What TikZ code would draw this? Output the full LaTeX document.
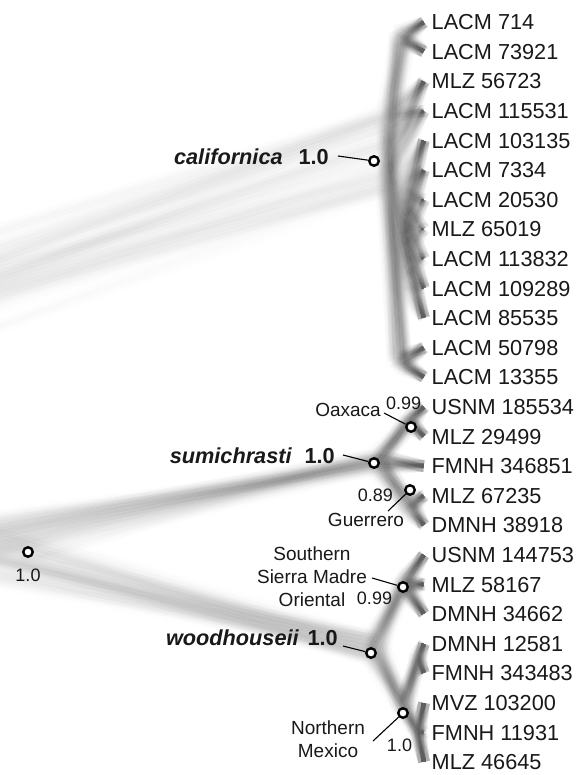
\documentclass[tikz,border=0pt]{standalone}
\usepackage{fontspec}
\setmainfont{Liberation Sans}
\begin{document}
\begin{tikzpicture}[x=1pt,y=-1pt,
  br/.style={draw=black, line width=1.2pt, draw opacity=0.0016, line cap=round, line join=round,
             preaction={draw=black, line width=12pt, draw opacity=0.0032},
             preaction={draw=black, line width=5pt, draw opacity=0.0034}},
  tiplbl/.style={anchor=west, inner sep=0pt, text height=15.5pt, text depth=0pt,
                 font=\fontsize{21.7}{24}\selectfont, text=black!90},
  taxlbl/.style={anchor=east, inner sep=0pt, text height=15.5pt, text depth=0pt,
                 font=\fontsize{21.7}{24}\selectfont, text=black!90},
  small/.style={inner sep=0pt, text height=13.5pt, text depth=0pt,
                font=\fontsize{19}{23.5}\selectfont, text=black!90},
  num/.style={inner sep=0pt, text height=12.9pt, text depth=0pt,
              font=\fontsize{18}{22}\selectfont, text=black!90},
  multi/.style={inner sep=0pt, align=center, font=\fontsize{19}{23.2}\selectfont, text=black!90},
  ring/.style={circle, draw=black, fill=white, line width=2.4pt, minimum size=9.5pt, inner sep=0pt},
  lead/.style={draw=black, line width=1.1pt}]

\fill[white] (0,0) rectangle (580,775);
\useasboundingbox (0,0) rectangle (580,775);

% tip positions of the cloud
\foreach \i in {0,...,25}{
  \coordinate (t\i) at (424,{22+29.6*\i});
}

% cloud of sampled trees
\begin{scope}
\clip (0,0) rectangle (580,775);
\pgfmathsetseed{2718}
\foreach \k in {1,...,80}{
  \pgfmathsetmacro\zRx{-560+100*rand}
  \pgfmathsetmacro\zRy{455+50*rand}
  \pgfmathsetmacro\zWSx{-50+70*rand}
  \pgfmathsetmacro\zWSy{548+22*rand}
  \pgfmathsetmacro\zCx{387+8*rand}
  \pgfmathsetmacro\zCy{150+45*rand}
  \pgfmathsetmacro\zAx{402+8*rand}
  \pgfmathsetmacro\zAy{37+8*rand}
  \pgfmathsetmacro\zBx{396+7*rand}
  \pgfmathsetmacro\zBy{230+60*rand}
  \pgfmathsetmacro\zDx{400+8*rand}
  \pgfmathsetmacro\zDy{362+8*rand}
  \pgfmathsetmacro\zSx{377+10*rand}
  \pgfmathsetmacro\zSy{462+9*rand}
  \pgfmathsetmacro\zOx{410+6*rand}
  \pgfmathsetmacro\zOy{422+7*rand}
  \pgfmathsetmacro\zGx{409+7*rand}
  \pgfmathsetmacro\zGy{505+10*rand}
  \pgfmathsetmacro\zWx{373+10*rand}
  \pgfmathsetmacro\zWy{648+13*rand}
  \pgfmathsetmacro\zEx{404+7*rand}
  \pgfmathsetmacro\zEy{585+9*rand}
  \pgfmathsetmacro\zNx{404+7*rand}
  \pgfmathsetmacro\zNy{705+10*rand}
  \pgfmathsetmacro\zPx{418+3*rand}
  \pgfmathsetmacro\zPy{659+8*rand}
  \pgfmathsetmacro\zQx{418+3*rand}
  \pgfmathsetmacro\zQy{733+8*rand}
  \path[br]
    (\zCx,\zCy) -- (\zRx,\zRy) -- (\zWSx,\zWSy)
    (\zSx,\zSy) -- (\zWSx,\zWSy) -- (\zWx,\zWy)
    % californica
    (\zCx,\zCy) -- (\zAx,\zAy) (\zAx,\zAy) -- (t0) (\zAx,\zAy) -- (t1)
    (\zCx,\zCy) -- (t2) (\zCx,\zCy) -- (t3)
    (\zCx,\zCy) -- (\zBx,\zBy)
    (\zBx,\zBy) -- (t4) (\zBx,\zBy) -- (t5) (\zBx,\zBy) -- (t6) (\zBx,\zBy) -- (t7)
    (\zBx,\zBy) -- (t8) (\zBx,\zBy) -- (t9) (\zBx,\zBy) -- (t10)
    (\zCx,\zCy) -- (\zDx,\zDy) (\zDx,\zDy) -- (t11) (\zDx,\zDy) -- (t12)
    % sumichrasti
    (\zSx,\zSy) -- (\zOx,\zOy) (\zOx,\zOy) -- (t13) (\zOx,\zOy) -- (t14)
    (\zSx,\zSy) -- (t15)
    (\zSx,\zSy) -- (\zGx,\zGy) (\zGx,\zGy) -- (t16) (\zGx,\zGy) -- (t17)
    % woodhouseii
    (\zWx,\zWy) -- (\zEx,\zEy) (\zEx,\zEy) -- (t18) (\zEx,\zEy) -- (t19) (\zEx,\zEy) -- (t20)
    (\zWx,\zWy) -- (\zNx,\zNy)
    (\zNx,\zNy) -- (\zPx,\zPy) (\zPx,\zPy) -- (t21) (\zPx,\zPy) -- (t22)
    (\zNx,\zNy) -- (\zQx,\zQy) (\zQx,\zQy) -- (t23) (\zQx,\zQy) -- (t24) (\zQx,\zQy) -- (t25);
}
\end{scope}

% specimen labels
\foreach \i/\s in {0/LACM 714, 1/LACM 73921, 2/MLZ 56723, 3/LACM 115531, 4/LACM 103135,
  5/LACM 7334, 6/LACM 20530, 7/MLZ 65019, 8/LACM 113832, 9/LACM 109289, 10/LACM 85535,
  11/LACM 50798, 12/LACM 13355, 13/USNM 185534, 14/MLZ 29499, 15/FMNH 346851,
  16/MLZ 67235, 17/DMNH 38918, 18/USNM 144753, 19/MLZ 58167, 20/DMNH 34662,
  21/DMNH 12581, 22/FMNH 343483, 23/MVZ 103200, 24/FMNH 11931, 25/MLZ 46645}{
  \node[tiplbl] (L\i) at (431.5,{22+29.6*\i}) {\s};
}

% clade markers
\node[ring] (calN) at (374,161) {};
\node[ring] (sumN) at (374,463) {};
\node[ring] (wooN) at (371,653) {};
\node[ring] (oaxN) at (411,427) {};
\node[ring] (gueN) at (410,490) {};
\node[ring] (ssmN) at (403,587) {};
\node[ring] (nmxN) at (403,713) {};
\node[ring] (rootN) at (28,552) {};

% species labels
\node[taxlbl] (calT) at (329,157) {\bfseries\itshape californica\hspace{16pt}\upshape 1.0};
\node[taxlbl] (sumT) at (335,456) {\bfseries\itshape sumichrasti\hspace{13pt}\upshape 1.0};
\node[taxlbl] (wooT) at (338,638) {\bfseries\itshape woodhouseii\hspace{9pt}\upshape 1.0};

% population labels and supports
\node[small, anchor=east] (oaxT) at (381,410) {Oaxaca};
\node[num, anchor=west] (oaxV) at (386,403) {0.99};
\node[num, anchor=east] (gueV) at (393,495) {0.89};
\node[small] (gueT) at (366,520) {Guerrero};
\node[multi] (ssmT) at (312,577) {Southern\\Sierra Madre\\Oriental};
\node[num] (ssmV) at (374.5,598) {0.99};
\node[multi] (nmxT) at (328,739) {Northern\\Mexico};
\node[num] (nmxV) at (399.5,745) {1.0};
\node[num] (rootV) at (28,575) {1.0};

% leader ends beside the labels
\coordinate (calE) at (338,156);
\coordinate (sumE) at (343,455);
\coordinate (wooE) at (343,646);
\coordinate (oaxE) at (384,413);
\coordinate (gueE) at (388,511);
\coordinate (ssmE) at (372,578);
\coordinate (nmxE) at (373,741);

\draw[lead] (calE) -- (calN);
\draw[lead] (sumE) -- (sumN);
\draw[lead] (wooE) -- (wooN);
\draw[lead] (oaxE) -- (oaxN);
\draw[lead] (gueE) -- (gueN);
\draw[lead] (ssmE) -- (ssmN);
\draw[lead] (nmxE) -- (nmxN);
\end{tikzpicture}
\end{document}
